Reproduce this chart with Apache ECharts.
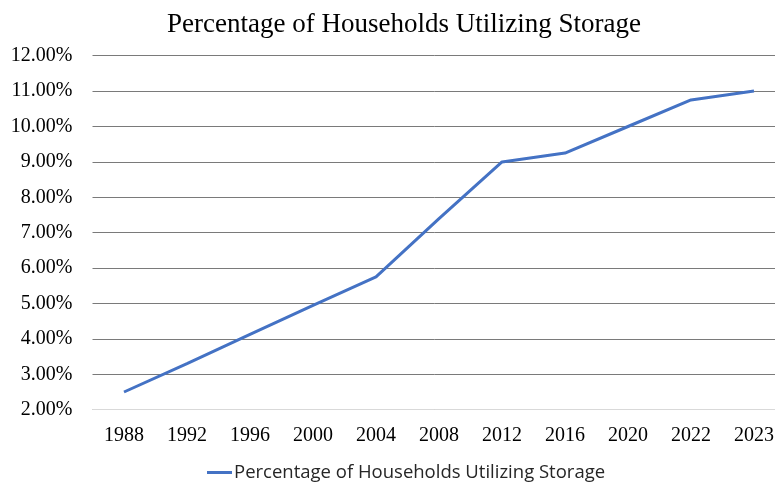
<!DOCTYPE html>
<html>
<head>
<meta charset="utf-8">
<script src="https://cdn.jsdelivr.net/npm/echarts@6/dist/echarts.min.js"></script>
<style>
  html, body { margin: 0; padding: 0; background: #fff; }
  #container { width: 775px; height: 483px; }
</style>
</head>
<body>
<div id="container"></div>
<script>
var dom = document.getElementById('container');
var myChart = echarts.init(dom);

let years = ['1988', '1992', '1996', '2000', '2004', '2008', '2012', '2016', '2020', '2022', '2023'];
// percent values
let storageShare = [2.5, 3.3, 4.13, 4.95, 5.75, 7.4, 9.0, 9.25, 10.0, 10.75, 11.0];
let seriesName = 'Percentage of Households Utilizing Storage';

option = {
    backgroundColor: '#ffffff',
    title: {
        text: 'Percentage of Households Utilizing Storage',
        left: 399,
        top: 6,
        textAlign: 'center',
        textStyle: {
            fontFamily: 'Liberation Serif',
            fontWeight: 'normal',
            fontSize: 27,
            color: '#000'
        }
    },
    legend: {
        data: [seriesName],
        top: 458,
        left: 202,
        icon: 'rect',
        itemWidth: 25,
        itemHeight: 3,
        itemGap: 10,
        textStyle: {
            fontFamily: 'Open Sans',
            fontSize: 18.5,
            color: '#262626',
            padding: [0, 0, 0, -3]
        }
    },
    grid: {
        left: 92.5,
        top: 55.7,
        width: 693,
        bottom: 73.3,
        outerBoundsMode: 'none',
        containLabel: false
    },
    xAxis: {
        type: 'category',
        data: years,
        boundaryGap: true,
        axisLine: {
            show: true,
            lineStyle: { color: '#d9d9d9', width: 1 }
        },
        axisTick: { show: false },
        axisLabel: {
            margin: 16,
            fontFamily: 'Liberation Serif',
            fontSize: 20,
            color: '#000'
        }
    },
    yAxis: {
        type: 'value',
        min: 2,
        max: 12,
        interval: 1,
        axisLine: { show: false },
        axisTick: { show: false },
        splitLine: {
            lineStyle: { color: '#7a7a7a', width: 1 }
        },
        axisLabel: {
            margin: 20,
            fontFamily: 'Liberation Serif',
            fontSize: 20,
            color: '#000',
            formatter: function (v) {
                return v.toFixed(2) + '%';
            }
        }
    },
    series: [{
        name: seriesName,
        type: 'line',
        data: storageShare,
        symbol: 'none',
        smooth: false,
        lineStyle: {
            color: '#4472c4',
            width: 3
        },
        itemStyle: { color: '#4472c4' }
    }]
};
myChart.setOption(option);

window.addEventListener('resize', function () {
    myChart.resize();
});
</script>
</body>
</html>
